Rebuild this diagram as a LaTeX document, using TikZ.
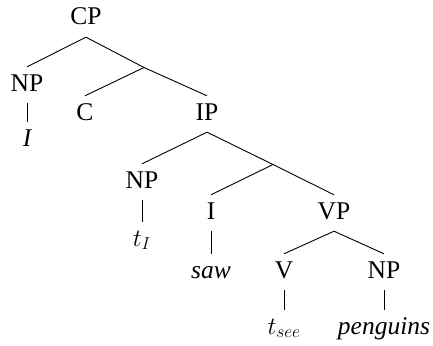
\documentclass[tikz,border=0pt]{standalone}
\usepackage{fontspec}
\setmainfont{Liberation Serif}
\begin{document}
\begin{tikzpicture}[x=1pt,y=-1pt,
  lab/.style={anchor=base,inner sep=7pt,text height=17pt,text depth=5pt,font=\fontsize{25.5}{30}\selectfont},
  edge/.style={draw,line width=0.9pt}]
\useasboundingbox (0,0) rectangle (433,345);
\node[lab] (cp) at (86,25) {CP};
\node[lab] (np1) at (27,91) {NP};
\node[lab] (i1) at (27,146) {\itshape I};
\node[lab] (c) at (85,120) {C};
\node[lab] (ip) at (207,120) {IP};
\node[lab] (np2) at (142,188) {NP};
\node[lab] (ti) at (142,246) {$t_{I}$};
\node[lab] (i2) at (211,219) {I};
\node[lab] (vp) at (334,219) {VP};
\node[lab] (saw) at (211,278) {\itshape saw};
\node[lab] (v) at (284,278) {V};
\node[lab] (np3) at (384,278) {NP};
\node[lab] (tsee) at (284,334) {$t_{see}$};
\node[lab] (pen) at (384,334) {\itshape penguins};
\coordinate (b1) at (144,67.5);
\coordinate (b2) at (273,164.5);
\draw[edge] (cp.south) -- (np1.north);
\draw[edge] (cp.south) -- (b1) -- (ip.north);
\draw[edge] (b1) -- (c.north);
\draw[edge] (np1.south) -- (i1.north);
\draw[edge] (ip.south) -- (np2.north);
\draw[edge] (ip.south) -- (b2) -- (vp.north);
\draw[edge] (b2) -- (i2.north);
\draw[edge] (np2.south) -- (ti.north);
\draw[edge] (i2.south) -- (saw.north);
\draw[edge] (vp.south) -- (v.north);
\draw[edge] (vp.south) -- (np3.north);
\draw[edge] (v.south) -- (tsee.north);
\draw[edge] (np3.south) -- (pen.north);
\end{tikzpicture}
\end{document}
